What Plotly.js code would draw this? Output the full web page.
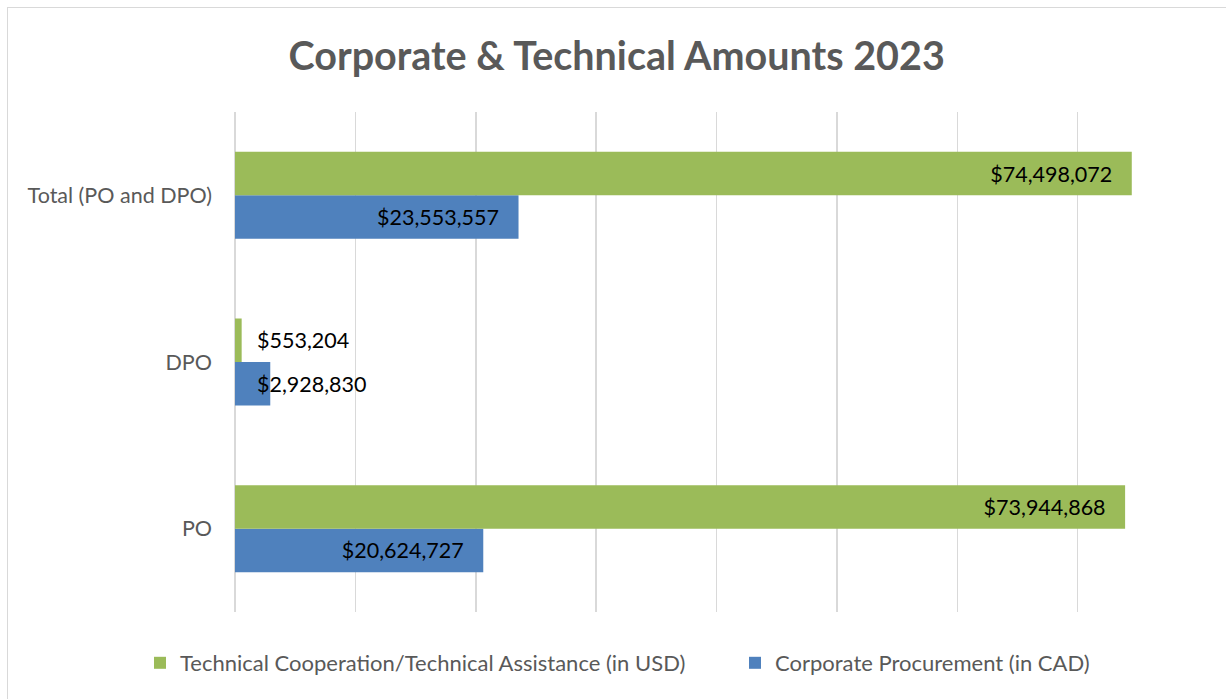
<!DOCTYPE html>
<html>
<head>
<meta charset="utf-8">
<script src="https://cdn.plot.ly/plotly-3.0.1.min.js"></script>
<style>
  html, body { margin: 0; padding: 0; overflow: hidden; background: #fff; }
  #frame { position: absolute; left: 7px; top: 7px; width: 1240px; height: 720px; border: 1px solid #d9d9d9; }
  #chart { position: absolute; left: 0; top: 0; width: 1226px; height: 699px; }
</style>
</head>
<body>
<div id="frame"></div>
<div id="chart"></div>
<script>
'use strict'

var categories = ['PO', 'DPO', 'Total (PO and DPO)'];
var corporate = [20624727, 2928830, 23553557];   // CAD
var technical = [73944868, 553204, 74498072];    // USD

var money = function(v) { return '$' + v.toLocaleString('en-US'); };
var pad = '\u00a0\u00a0\u00a0';

// small bars get their label pushed out to the right, like the original
var small = function(v) { return v < 5000000; };

var Corporate = {
    type: 'bar',
    orientation: 'h',
    name: 'Corporate Procurement (in CAD)',
    y: categories,
    x: corporate,
    marker: {color: '#4f81bd', line: {width: 0}},
    text: corporate.map(v => small(v) ? '' : money(v) + pad),
    textposition: 'inside',
    insidetextanchor: 'end',
    insidetextfont: {color: '#000000', size: 21.5},
    legend: 'legend2',
    hoverinfo: 'none'
}

var Technical = {
    type: 'bar',
    orientation: 'h',
    name: 'Technical Cooperation/Technical Assistance (in USD)',
    y: categories,
    x: technical,
    marker: {color: '#9bbb59', line: {width: 0}},
    text: technical.map(v => small(v) ? '' : money(v) + pad),
    textposition: 'inside',
    insidetextanchor: 'end',
    insidetextfont: {color: '#000000', size: 21.5},
    legend: 'legend',
    hoverinfo: 'none'
}

var notes = [];
categories.forEach(function(c, i) {
    if (small(technical[i])) {
        notes.push({x: 0, y: c, text: money(technical[i]), xanchor: 'left', yanchor: 'middle',
            xshift: 20, yshift: 22, showarrow: false, font: {size: 21.5, color: '#000000'}});
    }
    if (small(corporate[i])) {
        notes.push({x: 0, y: c, text: money(corporate[i]), xanchor: 'left', yanchor: 'middle',
            xshift: 20, yshift: -22, showarrow: false, font: {size: 21.5, color: '#000000'}});
    }
});

var legendBase = {
    orientation: 'h',
    xref: 'container', xanchor: 'left',
    y: 1 - 663/699, yref: 'container', yanchor: 'middle',
    font: {size: 22, color: '#595959'},
    itemclick: false,
    itemdoubleclick: false
}

var layout = {
    width: 1226,
    height: 699,
    margin: {l: 235, r: 28, t: 112, b: 87},
    font: {family: 'Lato, "Liberation Sans", sans-serif', color: '#595959'},
    title: {
        text: '<b>Corporate &amp; Technical Amounts 2023</b>',
        font: {size: 39.5, color: '#595959'},
        x: 0.503, xref: 'container', xanchor: 'center',
        y: 1 - 56/699, yref: 'container', yanchor: 'middle'
    },
    barmode: 'group',
    bargap: 0.478,
    bargroupgap: 0,
    xaxis: {
        range: [0, 80000000],
        dtick: 10000000,
        showticklabels: false,
        showgrid: true,
        gridcolor: '#d9d9d9',
        gridwidth: 1.5,
        zeroline: true,
        zerolinecolor: '#d9d9d9',
        zerolinewidth: 1.5,
        fixedrange: true
    },
    yaxis: {
        type: 'category',
        showgrid: false,
        zeroline: false,
        ticks: '',
        ticklabelstandoff: 22,
        tickfont: {size: 21.5, color: '#595959'},
        fixedrange: true
    },
    annotations: notes,
    showlegend: true,
    legend: Object.assign({}, legendBase, {x: 140/1226}),
    legend2: Object.assign({}, legendBase, {x: 735/1226}),
    paper_bgcolor: 'rgba(0,0,0,0)',
    plot_bgcolor: 'rgba(0,0,0,0)'
}

Plotly.newPlot('chart', [Corporate, Technical], layout, {displayModeBar: false, staticPlot: true});
</script>
</body>
</html>
